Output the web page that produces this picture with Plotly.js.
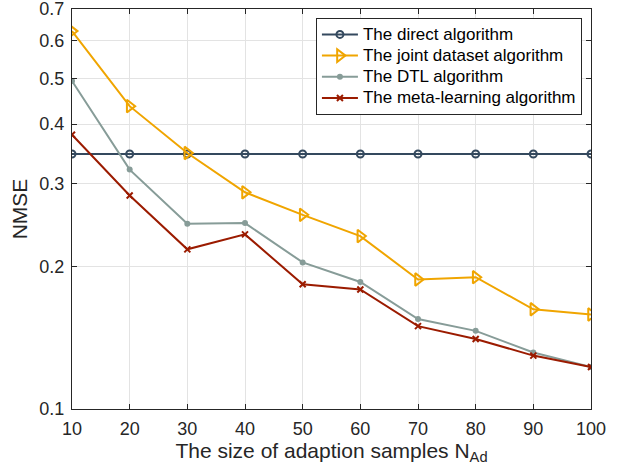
<!DOCTYPE html>
<html>
<head>
<meta charset="utf-8">
<script src="https://cdn.plot.ly/plotly-3.0.1.min.js"></script>
<style>
html,body{margin:0;padding:0;background:#fff;}
#chart{width:618px;height:473px;}
.legendtext{font-size:17px !important;}
</style>
</head>
<body>
<div id="chart"></div>
<script>
const xSamples = [10, 20, 30, 40, 50, 60, 70, 80, 90, 100];
const directNMSE = [0.3458, 0.3458, 0.3458, 0.3458, 0.3458, 0.3458, 0.3458, 0.3458, 0.3458, 0.3458];
const jointNMSE = [0.629, 0.4365, 0.3475, 0.287, 0.2572, 0.2319, 0.1877, 0.1898, 0.1624, 0.1583];
const dtlNMSE = [0.4935, 0.3205, 0.2462, 0.2470, 0.2040, 0.1855, 0.1548, 0.1462, 0.1316, 0.1226];
const metaNMSE = [0.3799, 0.2825, 0.2174, 0.2338, 0.1834, 0.1788, 0.1496, 0.1405, 0.1296, 0.1226];
const seriesNames = ["The direct algorithm", "The joint dataset algorithm", "The DTL algorithm", "The meta-learning algorithm"];
const yTickVals = [0.1, 0.2, 0.3, 0.4, 0.5, 0.6, 0.7];
const yTickText = ["0.1", "0.2", "0.3", "0.4", "0.5", "0.6", "0.7"];
const xTickVals = [10, 20, 30, 40, 50, 60, 70, 80, 90, 100];

const traces = [
  {x: xSamples, y: directNMSE, name: seriesNames[0], mode: "lines+markers",
   line: {color: "#34495e", width: 2}, marker: {symbol: "circle-open", size: 7, color: "#34495e", line: {width: 2}}},
  {x: xSamples, y: jointNMSE, name: seriesNames[1], mode: "lines+markers",
   line: {color: "#f0a500", width: 2}, marker: {symbol: "triangle-right-open", size: 11, color: "#f0a500", line: {width: 2}}},
  {x: xSamples, y: dtlNMSE, name: seriesNames[2], mode: "lines+markers",
   line: {color: "#879c98", width: 2}, marker: {symbol: "circle", size: 6, color: "#879c98"}},
  {x: xSamples, y: metaNMSE, name: seriesNames[3], mode: "lines+markers",
   line: {color: "#9b1b00", width: 2}, marker: {symbol: "x-thin-open", size: 6, color: "#9b1b00", line: {width: 2, color: "#9b1b00"}}}
];

const axisCommon = {
  showline: true, linecolor: "#262626", linewidth: 1, mirror: "ticks",
  ticks: "inside", ticklen: 5, tickcolor: "#262626",
  showgrid: true, gridcolor: "#e3e3e3", gridwidth: 1, zeroline: false,
  ticklabeloverflow: "allow",
  tickfont: {family: "Liberation Sans, Arial, sans-serif", size: 18, color: "#262626"}
};

const layout = {
  width: 618, height: 473,
  margin: {l: 72, r: 27, t: 9, b: 64},
  paper_bgcolor: "#ffffff", plot_bgcolor: "#ffffff",
  font: {family: "Liberation Sans, Arial, sans-serif", color: "#262626"},
  xaxis: Object.assign({}, axisCommon, {
    range: [10, 100], tickvals: xTickVals, ticklabelstandoff: 3, automargin: false,
    title: {text: "The size of adaption samples N<sub>Ad</sub>", font: {size: 21, color: "#262626"}, standoff: 4}
  }),
  yaxis: Object.assign({}, axisCommon, {
    type: "log", range: [Math.log10(0.1) - 0.0003, Math.log10(0.7) + 0.0003],
    tickvals: yTickVals, ticktext: yTickText, ticklabelstandoff: 3, automargin: false,
    title: {text: "NMSE", font: {size: 21, color: "#262626"}, standoff: 6}
  }),
  showlegend: true,
  legend: {
    x: 0.47, y: 0.978, xanchor: "left", yanchor: "top",
    bgcolor: "#ffffff", bordercolor: "#262626", borderwidth: 1,
    font: {family: "Liberation Sans, Arial, sans-serif", size: 14, color: "#000000"},
    tracegroupgap: 0, itemwidth: 36
  }
};

Plotly.newPlot("chart", traces, layout, {displayModeBar: false, staticPlot: true});
</script>
</body>
</html>
